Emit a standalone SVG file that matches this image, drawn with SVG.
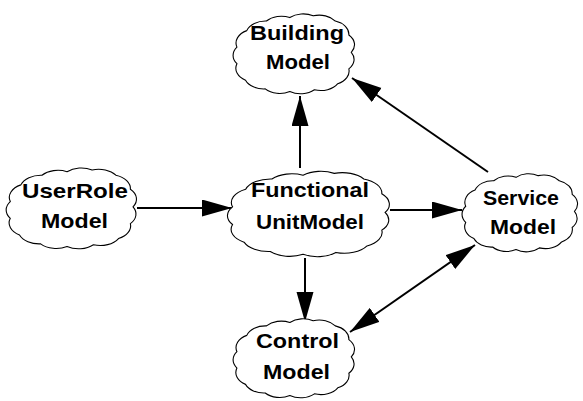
<svg xmlns="http://www.w3.org/2000/svg" xmlns:xlink="http://www.w3.org/1999/xlink" width="583" height="401" viewBox="0 0 583 401">
<style>
.cloud{fill:#fff;stroke:#000;stroke-width:1.1;vector-effect:non-scaling-stroke}
.lbl{font-family:"Liberation Sans",Arial,Helvetica,sans-serif;font-weight:bold;font-size:21px;fill:#000;text-anchor:middle}
.conn line{stroke:#000;stroke-width:2;fill:none}
</style>
<defs>
<path id="cloudShape" class="cloud" d="M4,45 A16,16 0 0 1 12,26 A16,16 0 0 1 28,15 A16,16 0 0 1 47,11 A16,16 0 0 1 66,9 A16,16 0 0 1 84,15 A16,16 0 0 1 95,31 A16,16 0 0 1 97,51 A16,16 0 0 1 95,70 A16,16 0 0 1 86,87 A16,16 0 0 1 67,94 A16,16 0 0 1 47,96 A16,16 0 0 1 27,93 A16,16 0 0 1 11,83 A16,16 0 0 1 4,64 A16,16 0 0 1 4,45 Z"/>
<marker id="ah" markerUnits="userSpaceOnUse" markerWidth="32" markerHeight="18" refX="30" refY="8.5" orient="auto-start-reverse" viewBox="0 0 32 18">
<path d="M0,0 L30,8.5 L0,17 Z" fill="#000"/>
</marker>
</defs>
<g id="connectors" class="conn">
<line x1="137" y1="208" x2="232" y2="208" marker-end="url(#ah)"/>
<line x1="300" y1="168" x2="300" y2="96" marker-end="url(#ah)"/>
<line x1="390" y1="210" x2="462" y2="210" marker-end="url(#ah)"/>
<line x1="305" y1="258" x2="305" y2="322" marker-end="url(#ah)"/>
<line x1="488" y1="172" x2="352" y2="78" marker-end="url(#ah)"/>
<line x1="475" y1="245" x2="350" y2="332" marker-start="url(#ah)" marker-end="url(#ah)"/>
</g>
<g id="building">
<use xlink:href="#cloudShape" transform="translate(232,8) scale(1.23,0.87)"/>
<text class="lbl" x="297" y="40" textLength="94" lengthAdjust="spacingAndGlyphs">Building</text>
<text class="lbl" x="298" y="69" textLength="64" lengthAdjust="spacingAndGlyphs">Model</text>
</g>
<g id="userrole">
<use xlink:href="#cloudShape" transform="translate(5,162) scale(1.32,0.88)"/>
<text class="lbl" x="75" y="198" textLength="106" lengthAdjust="spacingAndGlyphs">UserRole</text>
<text class="lbl" x="74.5" y="228" textLength="67" lengthAdjust="spacingAndGlyphs">Model</text>
</g>
<g id="functional">
<use xlink:href="#cloudShape" transform="translate(226,165) scale(1.64,0.93)"/>
<text class="lbl" x="310" y="197" textLength="118" lengthAdjust="spacingAndGlyphs">Functional</text>
<text class="lbl" x="310" y="229" textLength="108" lengthAdjust="spacingAndGlyphs">UnitModel</text>
</g>
<g id="service">
<use xlink:href="#cloudShape" transform="translate(461,168) scale(1.17,0.85)"/>
<text class="lbl" x="521" y="205" textLength="76" lengthAdjust="spacingAndGlyphs">Service</text>
<text class="lbl" x="523" y="234" textLength="66" lengthAdjust="spacingAndGlyphs">Model</text>
</g>
<g id="control">
<use xlink:href="#cloudShape" transform="translate(232,313) scale(1.23,0.86)"/>
<text class="lbl" x="297.5" y="348" textLength="83" lengthAdjust="spacingAndGlyphs">Control</text>
<text class="lbl" x="296.5" y="379" textLength="67" lengthAdjust="spacingAndGlyphs">Model</text>
</g>
</svg>
